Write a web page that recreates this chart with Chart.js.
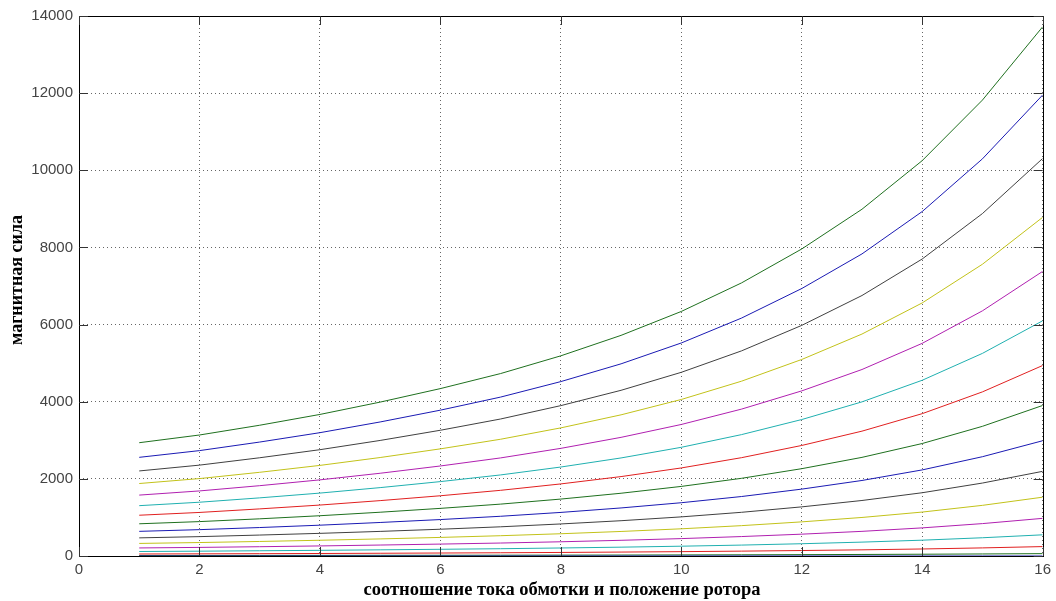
<!DOCTYPE html>
<html>
<head>
<meta charset="utf-8">
<script src="https://cdn.jsdelivr.net/npm/chart.js@4.4.1/dist/chart.umd.min.js"></script>
<style>
  html, body { margin: 0; padding: 0; background: #ffffff; }
  #wrap { width: 1056px; height: 601px; position: relative; }
</style>
</head>
<body>
<div id="wrap"><canvas id="c" width="1056" height="601"></canvas></div>
<script>
// x positions (current ratio / rotor position)
const xValues = [1, 2, 3, 4, 5, 6, 7, 8, 9, 10, 11, 12, 13, 14, 15, 16];
const xTicks = [0, 2, 4, 6, 8, 10, 12, 14, 16];
const yTicks = [0, 2000, 4000, 6000, 8000, 10000, 12000, 14000];

const xTitle = "соотношение тока обмотки и положение ротора";
const yTitle = "магнитная сила";

// series (bottom curve s0 to top curve s15)
const s0  = [0, 0, 0, 0, 0, 0, 0, 0, 0, 0, 0, 0, 0, 0, 0, 0];
const s1  = [13, 14, 15, 16, 18, 19, 21, 23, 25, 28, 31, 35, 40, 46, 53, 61];
const s2  = [52, 56, 60, 65, 71, 77, 84, 92, 102, 113, 126, 142, 160, 182, 210, 244];
const s3  = [117, 125, 136, 147, 160, 174, 189, 208, 229, 254, 283, 318, 360, 410, 473, 549];
const s4  = [209, 223, 241, 261, 284, 309, 336, 369, 407, 451, 504, 566, 639, 729, 840, 976];
const s5  = [326, 349, 377, 408, 443, 482, 526, 577, 636, 705, 787, 885, 999, 1139, 1313, 1525];
const s6  = [470, 502, 543, 587, 638, 694, 757, 831, 915, 1014, 1133, 1274, 1439, 1640, 1891, 2195];
const s7  = [639, 683, 738, 799, 869, 945, 1030, 1130, 1246, 1381, 1542, 1734, 1958, 2232, 2574, 2988];
const s8  = [835, 892, 964, 1044, 1135, 1235, 1345, 1476, 1627, 1804, 2014, 2264, 2557, 2916, 3362, 3903];
const s9  = [1057, 1129, 1221, 1321, 1436, 1562, 1703, 1869, 2059, 2283, 2549, 2866, 3237, 3690, 4255, 4939];
const s10 = [1305, 1394, 1507, 1631, 1773, 1929, 2102, 2307, 2542, 2818, 3147, 3538, 3996, 4556, 5253, 6098];
const s11 = [1579, 1687, 1823, 1974, 2145, 2334, 2543, 2791, 3076, 3410, 3808, 4281, 4835, 5513, 6356, 7379];
const s12 = [1879, 2007, 2170, 2349, 2553, 2778, 3027, 3322, 3660, 4058, 4532, 5095, 5754, 6561, 7564, 8781];
const s13 = [2205, 2356, 2547, 2756, 2996, 3260, 3552, 3899, 4296, 4762, 5318, 5979, 6753, 7700, 8878, 10306];
const s14 = [2558, 2732, 2954, 3197, 3475, 3781, 4120, 4522, 4982, 5523, 6168, 6934, 7832, 8930, 10296, 11952];
const s15 = [2937, 3137, 3390, 3670, 3990, 4340, 4730, 5190, 5720, 6340, 7080, 7960, 8990, 10250, 11820, 13720];

const seriesList = [s0, s1, s2, s3, s4, s5, s6, s7, s8, s9, s10, s11, s12, s13, s14, s15];
const colorOrder = ['#1a1ab3', '#1f701f', '#e02020', '#20b0b0', '#b020b0', '#c2c21a', '#404040'];

const datasets = seriesList.map((s, i) => ({
  label: 's' + i,
  data: s.map((v, k) => ({ x: xValues[k], y: v })),
  borderColor: colorOrder[i % colorOrder.length],
  backgroundColor: colorOrder[i % colorOrder.length],
  borderWidth: 1,
  pointRadius: 0,
  tension: 0,
  fill: false
}));

const frame = {
  id: 'frame',
  afterDatasetsDraw(chart) {
    const { ctx, chartArea: a, scales } = chart;
    ctx.save();
    ctx.strokeStyle = '#000000';
    ctx.lineWidth = 1;
    ctx.strokeRect(Math.round(a.left) + 0.5, Math.round(a.top) + 0.5,
                   Math.round(a.right - a.left), Math.round(a.bottom - a.top));
    const tl = 9;
    ctx.strokeStyle = '#333333';
    ctx.beginPath();
    xTicks.forEach(v => {
      const px = Math.round(scales.x.getPixelForValue(v)) + 0.5;
      ctx.moveTo(px, a.bottom); ctx.lineTo(px, a.bottom - tl);
      ctx.moveTo(px, a.top); ctx.lineTo(px, a.top + tl);
    });
    yTicks.forEach(v => {
      const py = Math.round(scales.y.getPixelForValue(v)) + 0.5;
      ctx.moveTo(a.left, py); ctx.lineTo(a.left + tl, py);
      ctx.moveTo(a.right, py); ctx.lineTo(a.right - tl, py);
    });
    ctx.stroke();
    // axis titles
    ctx.fillStyle = '#000000';
    ctx.textAlign = 'center';
    ctx.textBaseline = 'middle';
    ctx.font = 'bold 18.5px "Liberation Serif", "DejaVu Serif", serif';
    ctx.fillText(xTitle, 562, 590);
    ctx.translate(17, 280);
    ctx.rotate(-Math.PI / 2);
    ctx.font = 'bold 18px "Liberation Serif", "DejaVu Serif", serif';
    ctx.fillText(yTitle, 0, 0);
    ctx.restore();
  }
};

new Chart(document.getElementById('c'), {
  type: 'line',
  data: { datasets },
  options: {
    responsive: false,
    animation: false,
    events: [],
    layout: { padding: { left: 0, right: 11, top: 16, bottom: 0 } },
    plugins: { legend: { display: false }, tooltip: { enabled: false }, title: { display: false } },
    scales: {
      x: {
        type: 'linear',
        min: 0, max: 16,
        afterBuildTicks: (scale) => { scale.ticks = xTicks.map(v => ({ value: v })); },
        afterFit: (scale) => { scale.height = 45; },
        ticks: { color: '#444444', font: { family: '"Liberation Sans", Arial, sans-serif', size: 15 }, padding: 5, maxRotation: 0, autoSkip: false },
        grid: { display: true, drawTicks: false, color: 'rgba(0,0,0,0.6)', lineWidth: 1 },
        border: { display: false, dash: [1, 3] }
      },
      y: {
        type: 'linear',
        min: 0, max: 14000,
        afterBuildTicks: (scale) => { scale.ticks = yTicks.map(v => ({ value: v })); },
        afterFit: (scale) => { scale.width = 79; },
        ticks: { color: '#444444', font: { family: '"Liberation Sans", Arial, sans-serif', size: 15 }, padding: 6, callback: (v) => String(v) },
        grid: { display: true, drawTicks: false, color: 'rgba(0,0,0,0.6)', lineWidth: 1 },
        border: { display: false, dash: [1, 3] }
      }
    }
  },
  plugins: [frame]
});
</script>
</body>
</html>
